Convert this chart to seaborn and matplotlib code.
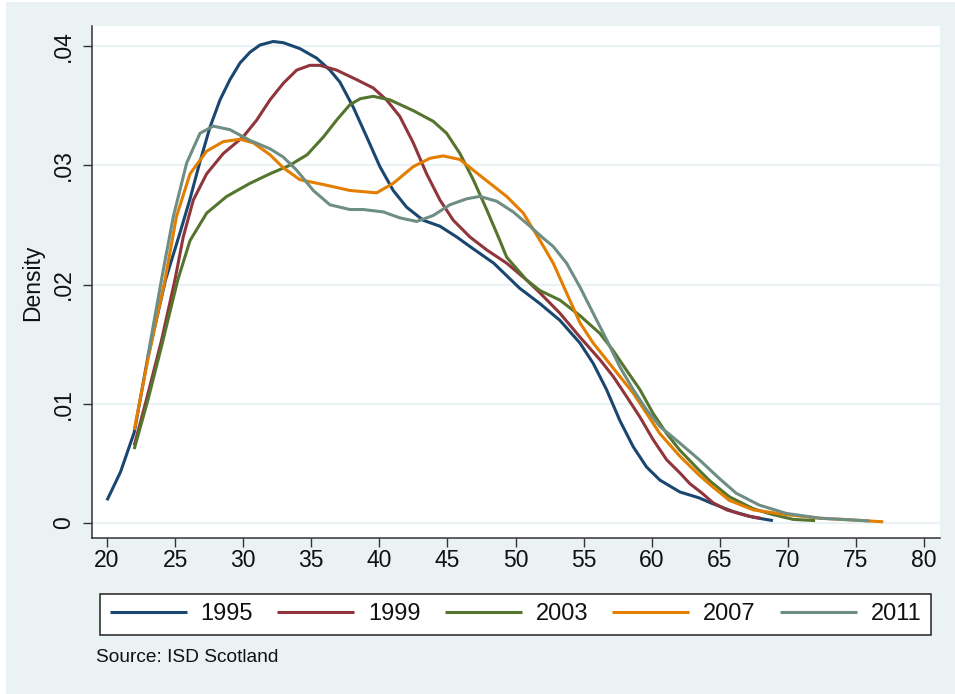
import numpy as np
import pandas as pd
import matplotlib
matplotlib.use("Agg")
import matplotlib.pyplot as plt
from matplotlib.patches import Rectangle
import seaborn as sns

years = ["1995", "1999", "2003", "2007", "2011"]
colors = ["#1A476F", "#90353B", "#55752F", "#E37E00", "#6E8E84"]

age_1995 = [20, 21, 22, 23, 24.3, 25.4, 26.1, 26.8, 27.56, 28.3, 29.03, 29.77, 30.5, 31.23, 32.2, 32.95,
            34.17, 35.4, 36.37, 37.1, 38.08, 39.07, 40.04, 41.02, 42.0, 43.22, 44.45, 45.68, 46.65,
            48.4, 50.3, 51.8, 53.26, 54.73, 55.7, 56.68, 57.66, 58.64, 59.62, 60.6, 62.07, 63.5,
            64.3, 66, 67.45, 68.9]
dens_1995 = [.0019, .0043, .0076, .0139, .0204, .0245, .0272, .0302, .0332, .0355, .0372, .0386, .0395,
             .0401, .0404, .0403, .0398, .0390, .0380, .0370, .0349, .0324, .0299, .0279, .0265, .0254,
             .0249, .0240, .0232, .0218, .0197, .0184, .0170, .0151, .0134, .0112, .0086, .0064, .0047,
             .0036, .0026, .0021, .0017, .00095, .00048, .0002]

age_1999 = [22, 23, 24, 24.99, 25.6, 26.34, 27.32, 28.54, 30.0, 30.99, 31.97, 32.95, 33.93, 34.9, 35.64,
            36.86, 38.33, 39.55, 40.53, 41.51, 42.49, 43.47, 44.45, 45.43, 46.65, 47.9, 49.35, 50.8,
            51.8, 53.26, 54.73, 56.2, 57.17, 58.16, 59.13, 60.1, 61.1, 62.07, 62.8, 63.7, 64.5, 65.5,
            67, 68]
dens_1999 = [.0065, .0108, .0153, .0204, .0240, .0271, .0293, .0310, .0324, .0338, .0355, .0369, .0380,
             .0384, .0384, .0380, .0372, .0365, .0355, .0341, .0319, .0293, .0271, .0254, .0240, .0229,
             .0218, .0204, .0193, .0176, .0156, .0137, .0123, .0106, .0089, .0070, .0053, .0042, .0033,
             .0025, .0017, .0011, .0006, .0004]

age_2003 = [22, 23, 24, 25.2, 26.1, 27.32, 28.79, 30.5, 31.97, 33.4, 34.7, 35.9, 36.86, 37.84, 38.6,
            39.55, 40.78, 42.49, 43.96, 44.94, 45.92, 46.9, 47.88, 48.85, 49.35, 50.8, 51.8, 53.26,
            54.73, 56.2, 57.15, 58.16, 59.13, 60.1, 61.1, 62.07, 63.5, 64.3, 65.7, 67.45, 68.9, 70.4, 72]
dens_2003 = [.0062, .0103, .0148, .0204, .0237, .0260, .0274, .0285, .0293, .0300, .0309, .0324, .0338,
             .0351, .0356, .0358, .0355, .0346, .0337, .0327, .0310, .0288, .0263, .0237, .0223, .0204,
             .0195, .0187, .0174, .0159, .0145, .0128, .0112, .0092, .0075, .0061, .0044, .0035, .0022,
             .0012, .0007, .0003, .0002]

age_2007 = [22, 23, 24.26, 25.1, 26.1, 27.32, 28.54, 29.77, 30.74, 31.97, 32.95, 34.17, 35.88, 37.84,
            39.8, 41.02, 42.49, 43.72, 44.69, 45.92, 46.9, 48.12, 49.35, 50.57, 51.8, 52.77, 53.75,
            54.73, 55.7, 56.68, 57.66, 58.64, 59.62, 60.6, 62.07, 63.5, 64.3, 65.7, 67.45, 69.9, 72.35,
            74.8, 77]
dens_2007 = [.0078, .0137, .0204, .0257, .0293, .0312, .0320, .0322, .0319, .0309, .0298, .0288, .0284,
             .0279, .0277, .0285, .0299, .0306, .0308, .0305, .0296, .0285, .0274, .0260, .0237, .0218,
             .0193, .0168, .0151, .0137, .0123, .0109, .0092, .0075, .0056, .0040, .0032, .0019, .0011,
             .0007, .0004, .00025, .0001]

age_2011 = [23, 24.0, 24.87, 25.85, 26.83, 27.8, 29.03, 30.5, 31.97, 32.95, 33.93, 35.15, 36.37, 37.84,
            38.82, 40.29, 41.51, 42.74, 43.96, 45.18, 46.41, 47.39, 48.61, 49.83, 51.06, 52.03, 52.77,
            53.75, 54.73, 55.7, 56.68, 57.66, 58.64, 59.62, 60.6, 62.07, 63.5, 65.0, 66.2, 67.9, 69.9,
            72.35, 74.8, 76]
dens_2011 = [.0140, .0204, .0257, .0302, .0327, .0333, .0330, .0321, .0314, .0307, .0296, .0279, .0267,
             .0263, .0263, .0261, .0256, .0253, .0258, .0267, .0272, .0274, .0270, .0261, .0249, .0239,
             .0232, .0218, .0198, .0176, .0154, .0131, .0112, .0095, .0081, .0067, .0053, .0037, .0025,
             .0015, .0008, .0004, .00025, .00017]

x_ticks = [20, 25, 30, 35, 40, 45, 50, 55, 60, 65, 70, 75, 80]
y_ticks = [0, 0.01, 0.02, 0.03, 0.04]
y_tick_labels = ["0", ".01", ".02", ".03", ".04"]

ages = [age_1995, age_1999, age_2003, age_2007, age_2011]
dens = [dens_1995, dens_1999, dens_2003, dens_2007, dens_2011]
frames = [pd.DataFrame({"age": a, "density": d, "year": y}) for a, d, y in zip(ages, dens, years)]
df = pd.concat(frames, ignore_index=True)

sns.set_theme(style="white")
plt.rcParams["font.family"] = ["Liberation Sans", "DejaVu Sans"]
plt.rcParams["lines.solid_capstyle"] = "butt"
plt.rcParams["lines.solid_joinstyle"] = "round"

bg = "#EAF2F3"
fig = plt.figure(figsize=(9.55, 6.94), dpi=100)
fig.patch.set_facecolor("white")
fig.patches.append(Rectangle((6 / 955, 0), 1, 692 / 694, transform=fig.transFigure,
                             facecolor=bg, edgecolor="none", zorder=-10))

ax = fig.add_axes([92 / 955, 1 - 538 / 694, 848 / 955, 512 / 694])
ax.set_facecolor("white")

sns.lineplot(data=df, x="age", y="density", hue="year", hue_order=years,
             palette=dict(zip(years, colors)), sort=False, estimator=None,
             linewidth=2.2, legend=False, ax=ax)

ax.set_xlim(18.9, 81.17)
ax.set_ylim(-0.00126, 0.0417)
ax.set_xticks(x_ticks)
ax.set_xticklabels([str(t) for t in x_ticks])
ax.set_yticks(y_ticks)
ax.set_yticklabels(y_tick_labels, rotation=90, va="center")

for yv in y_ticks:
    ax.axhline(yv, color=bg, linewidth=1.6, zorder=0)

for s in ["top", "right"]:
    ax.spines[s].set_visible(False)
for s in ["left", "bottom"]:
    ax.spines[s].set_color("#333333")
    ax.spines[s].set_linewidth(1.1)

ax.tick_params(axis="x", direction="out", length=6.3, width=1.0, color="#333333",
               labelsize=16.5, pad=1.5, labelcolor="#111111", bottom=True)
ax.tick_params(axis="y", direction="out", length=6.7, width=1.0, color="#333333",
               labelsize=16.5, pad=5.5, labelcolor="#111111", left=True)

ax.set_xlabel("")
ax.set_ylabel("Density", fontsize=16.5, color="#111111", va="center")
ax.yaxis.set_label_coords(-0.0696, 0.498)

handles = ax.get_lines()[:5]
leg = fig.legend(handles, years, loc="center", ncol=5,
                 bbox_to_anchor=(515.5 / 955, 1 - 614.5 / 694), bbox_transform=fig.transFigure,
                 fontsize=17, handlelength=3.26, handletextpad=0.58, columnspacing=1.03,
                 borderpad=0.42, frameon=True, fancybox=False, framealpha=1)
leg.get_frame().set_edgecolor("#222222")
leg.get_frame().set_linewidth(1.1)
leg.get_frame().set_facecolor("white")
for t in leg.get_texts():
    t.set_color("#111111")

fig.text(96 / 955, 1 - 658 / 694, "Source: ISD Scotland", fontsize=13.8,
         color="#111111", ha="left", va="center")

fig.savefig("out.png", dpi=100, facecolor=fig.get_facecolor())
